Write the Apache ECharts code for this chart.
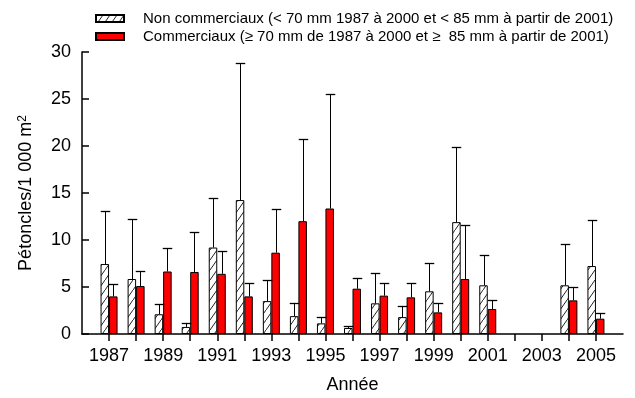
<!DOCTYPE html>
<html>
<head>
<meta charset="utf-8">
<script src="https://cdn.jsdelivr.net/npm/echarts@6/dist/echarts.min.js"></script>
<style>
  html, body { margin: 0; padding: 0; background: #fff; }
  #chart { width: 635px; height: 398px; }
</style>
</head>
<body>
<div id="chart"></div>
<script>
// Survey years
var years = [1987, 1988, 1989, 1990, 1991, 1992, 1993, 1994, 1995, 1996,
             1997, 1998, 1999, 2000, 2001, 2002, 2003, 2004, 2005];

// Mean densities (scallops / 1 000 m2) and upper limit of the error bar
var nonCommMean = [7.45, 5.85, 2.1, 0.75, 9.2, 14.25, 3.5, 1.9, 1.13, 0.64,
                   3.26, 1.8, 4.54, 11.9, 5.18, null, null, 5.18, 7.23];
var nonCommHigh = [13.1, 12.2, 3.15, 1.2, 14.5, 28.8, 5.7, 3.25, 1.77, 0.89,
                   6.5, 2.94, 7.55, 19.9, 8.37, null, null, 9.6, 12.1];
var commMean = [4.0, 5.1, 6.65, 6.6, 6.4, 4.0, 8.65, 12.0, 13.35, 4.82,
                4.08, 3.9, 2.3, 5.85, 2.66, null, null, 3.58, 1.63];
var commHigh = [5.3, 6.65, 9.15, 10.8, 8.8, 5.45, 13.35, 20.7, 25.5, 6.0,
                5.39, 5.46, 3.26, 11.6, 3.65, null, null, 4.97, 2.27];

var yTicks = [0, 5, 10, 15, 20, 25, 30];

var nameNonComm = 'Non commerciaux (< 70 mm 1987 à 2000 et < 85 mm à partir de 2001)';
var nameComm = 'Commerciaux (\u2265 70 mm de 1987 à 2000 et \u2265  85 mm à partir de 2001)';

// The x axis runs one year beyond each end, so pad the categories with blanks
var categories = [''].concat(years.map(String)).concat(['']);
function pad(arr) { return [null].concat(arr).concat([null]); }

// Diagonal hatching for the non-commercial bars
function hatchPattern() {
  var w = 7, h = 10;
  var c = document.createElement('canvas');
  c.width = w; c.height = h;
  var g = c.getContext('2d');
  g.fillStyle = '#ffffff';
  g.fillRect(0, 0, w, h);
  g.strokeStyle = '#222';
  g.lineWidth = 1;
  g.beginPath();
  g.moveTo(-w, 2 * h); g.lineTo(2 * w, -h);
  g.stroke();
  return { image: c, repeat: 'repeat' };
}

var BAR_W = 8.5;

function errorData(mean, high, offsetSign) {
  var out = [];
  for (var i = 0; i < mean.length; i++) {
    if (mean[i] == null) continue;
    out.push([i + 1, mean[i], high[i], offsetSign]);
  }
  return out;
}

function renderError(params, api) {
  var base = api.coord([api.value(0), api.value(1)]);
  var top = api.coord([api.value(0), api.value(2)]);
  var x = Math.round(base[0] + api.value(3) * BAR_W / 2) + 0.5;
  var yb = base[1], yt = Math.round(top[1]) + 0.5;
  var half = BAR_W / 2 + 0.5;
  return {
    type: 'group',
    children: [
      { type: 'line', shape: { x1: x, y1: yb, x2: x, y2: yt },
        style: { stroke: '#000', lineWidth: 1 } },
      { type: 'line', shape: { x1: x - half, y1: yt, x2: x + half, y2: yt },
        style: { stroke: '#000', lineWidth: 1.3 } }
    ]
  };
}

var chart = echarts.init(document.getElementById('chart'), null, { renderer: 'canvas' });

var font = 'Liberation Sans, Arial, sans-serif';

chart.setOption({
  animation: false,
  backgroundColor: '#ffffff',
  textStyle: { fontFamily: font, color: '#000' },
  grid: { left: 82, right: 12, top: 52, bottom: 64, outerBoundsMode: 'none' },
  legend: {
    orient: 'vertical',
    left: 95,
    top: 11,
    padding: 0,
    itemWidth: 28,
    itemHeight: 7,
    itemGap: 3,
    icon: 'rect',
    selectedMode: false,
    textStyle: { fontFamily: font, fontSize: 15, color: '#000', padding: [0, 0, 0, 14] },
    data: [nameNonComm, nameComm]
  },
  xAxis: {
    type: 'category',
    data: categories,
    boundaryGap: false,
    name: 'Année',
    nameLocation: 'middle',
    nameGap: 42,
    nameTextStyle: { fontFamily: font, fontSize: 18, color: '#000' },
    axisLine: { lineStyle: { color: '#000', width: 1.5 } },
    axisTick: {
      length: 7,
      lineStyle: { color: '#000', width: 1.5 },
      interval: function (idx, val) { return val !== ''; }
    },
    axisLabel: {
      fontFamily: font, fontSize: 18, color: '#000', margin: 13,
      interval: function (idx, val) { return val !== '' && (Number(val) - 1987) % 2 === 0; }
    },
    splitLine: { show: false }
  },
  yAxis: {
    type: 'value',
    min: yTicks[0],
    max: yTicks[yTicks.length - 1],
    interval: 5,
    name: 'Pétoncles/1 000 m{sup|2}',
    nameLocation: 'middle',
    nameGap: 47,
    nameTextStyle: {
      fontFamily: font, fontSize: 18, color: '#000',
      rich: { sup: { fontFamily: font, fontSize: 12, color: '#000', verticalAlign: 'top', lineHeight: 18 } }
    },
    axisLine: { show: true, lineStyle: { color: '#000', width: 1.5 } },
    axisTick: { show: true, inside: true, length: 7, lineStyle: { color: '#000', width: 1.5 } },
    axisLabel: { fontFamily: font, fontSize: 18, color: '#000', margin: 11 },
    splitLine: { show: false }
  },
  series: [
    {
      name: nameNonComm,
      type: 'bar',
      data: pad(nonCommMean),
      barWidth: BAR_W,
      barGap: '0%',
      itemStyle: { color: hatchPattern(), borderColor: '#000', borderWidth: 1 }
    },
    {
      name: nameComm,
      type: 'bar',
      data: pad(commMean),
      barWidth: BAR_W,
      barGap: '0%',
      itemStyle: { color: '#ff0000', borderColor: '#000', borderWidth: 1 }
    },
    {
      type: 'custom',
      renderItem: renderError,
      data: errorData(nonCommMean, nonCommHigh, -1),
      encode: { x: 0, y: [1, 2] },
      z: 3,
      silent: true
    },
    {
      type: 'custom',
      renderItem: renderError,
      data: errorData(commMean, commHigh, 1),
      encode: { x: 0, y: [1, 2] },
      z: 3,
      silent: true
    }
  ]
});
</script>
</body>
</html>
